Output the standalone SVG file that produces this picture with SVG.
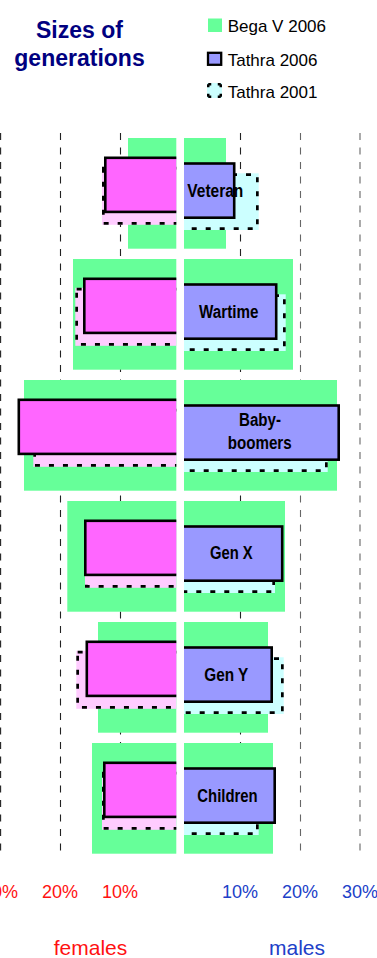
<svg xmlns="http://www.w3.org/2000/svg" width="377" height="958" viewBox="0 0 377 958">
<style>
.bg{fill:#66FF99}
.f06{fill:#FF66FF;stroke:#000;stroke-width:2.6}
.m06{fill:#9999FF;stroke:#000;stroke-width:2.6}
.f01{fill:#FFCCFF}
.m01{fill:#CCFFFF}
.dash{fill:none;stroke:#000;stroke-width:2.7;stroke-dasharray:5 9}
.lbl{font-family:"Liberation Sans",Arial,sans-serif;font-weight:bold;font-size:17.5px;text-anchor:middle;fill:#000}
.grid{fill:none;stroke:#222;stroke-width:1.1;stroke-dasharray:7 7.5}
.gridr{fill:none;stroke:#666;stroke-width:1.1;stroke-dasharray:7 7.5}
.leg{font-family:"Liberation Sans",Arial,sans-serif;font-size:17px;fill:#000}
.title{font-family:"Liberation Sans",Arial,sans-serif;font-weight:bold;font-size:23px;fill:#000080;text-anchor:middle}
.axf{font-family:"Liberation Sans",Arial,sans-serif;font-size:18px;fill:#FF1111;text-anchor:middle}
.axm{font-family:"Liberation Sans",Arial,sans-serif;font-size:18px;fill:#2040C8;text-anchor:middle}
.capf{font-family:"Liberation Sans",Arial,sans-serif;font-size:21px;fill:#FF1111;text-anchor:middle}
.capm{font-family:"Liberation Sans",Arial,sans-serif;font-size:21px;fill:#2040C8;text-anchor:middle}
</style>
<defs>
<clipPath id="clipL"><rect x="0" y="0" width="176.3" height="958"/></clipPath>
<clipPath id="clipR"><rect x="184" y="0" width="193" height="958"/></clipPath>
</defs>
<rect x="0" y="0" width="377" height="958" fill="#fff"/>

<g id="title">
<text class="title" x="79.5" y="37.5">Sizes of</text>
<text class="title" x="79.5" y="65.5">generations</text>
</g>

<g id="legend">
<rect x="208" y="18.5" width="14" height="13.5" class="bg"/>
<text class="leg" x="227.7" y="32">Bega V 2006</text>
<rect x="208" y="52.8" width="13.2" height="12" fill="#9999FF" stroke="#000" stroke-width="2.3"/>
<text class="leg" x="227.7" y="65.5">Tathra 2006</text>
<rect x="207" y="83" width="15" height="15" fill="#CCFFFF"/>
<rect x="208.25" y="84.25" width="12.5" height="12.5" fill="none" stroke="#000" stroke-width="2.5" stroke-dasharray="3 6.5 3 0"/>
<text class="leg" x="227.7" y="97.5">Tathra 2001</text>
</g>

<g id="gridlines">
<line class="grid" x1="0.6" y1="133" x2="0.6" y2="858" stroke-width="1.3"/>
<line class="grid" x1="60.5" y1="133" x2="60.5" y2="858"/>
<line class="grid" x1="120.5" y1="133" x2="120.5" y2="858"/>
<line class="grid" x1="240.5" y1="133" x2="240.5" y2="858"/>
<line class="gridr" x1="300.5" y1="133" x2="300.5" y2="858"/>
<line class="gridr" x1="360" y1="133" x2="360" y2="858" stroke-width="2"/>
</g>

<g id="connectors"></g>

<g id="veteran">
<g clip-path="url(#clipL)">
<rect class="bg" x="128" y="138" width="52" height="110.7"/>
<rect class="f01" x="102" y="166.8" width="78" height="58"/>
<rect class="dash" x="103.35" y="168.15" width="80" height="55.3"/>
<rect class="f06" x="105.3" y="157.8" width="80" height="54.1"/>
</g>
<g clip-path="url(#clipR)">
<rect class="bg" x="180" y="138" width="46" height="110.7"/>
<rect class="m01" x="180" y="173.3" width="78.7" height="56.7"/>
<rect class="dash" x="176" y="174.65" width="81.35" height="54"/>
<rect class="m06" x="176" y="163.5" width="58.2" height="54.2"/>
</g>
<text class="lbl" x="215.3" y="196.7" textLength="56" lengthAdjust="spacingAndGlyphs">Veteran</text>
</g>

<g id="wartime">
<g clip-path="url(#clipL)">
<rect class="bg" x="73" y="259" width="107" height="110.7"/>
<rect class="f01" x="75.3" y="287.8" width="104.7" height="58"/>
<rect class="dash" x="76.65" y="289.15" width="110" height="55.3"/>
<rect class="f06" x="84.3" y="278.8" width="100" height="54.1"/>
</g>
<g clip-path="url(#clipR)">
<rect class="bg" x="180" y="259" width="113" height="110.7"/>
<rect class="m01" x="180" y="294.3" width="105.7" height="56.7"/>
<rect class="dash" x="176" y="295.65" width="108.35" height="54"/>
<rect class="m06" x="176" y="284.5" width="100.2" height="54.2"/>
</g>
<text class="lbl" x="228.7" y="317.7" textLength="59.3" lengthAdjust="spacingAndGlyphs">Wartime</text>
</g>

<g id="baby-boomers">
<g clip-path="url(#clipL)">
<rect class="bg" x="24" y="380" width="156" height="110.7"/>
<rect class="f01" x="33.3" y="408.8" width="146.7" height="58"/>
<rect class="dash" x="34.65" y="410.15" width="150" height="55.3"/>
<rect class="f06" x="18.8" y="399.8" width="170" height="54.1"/>
</g>
<g clip-path="url(#clipR)">
<rect class="bg" x="180" y="380" width="157" height="110.7"/>
<rect class="m01" x="180" y="415.3" width="147.7" height="56.7"/>
<rect class="dash" x="176" y="416.65" width="150.35" height="54"/>
<rect class="m06" x="176" y="405.5" width="162.7" height="54.2"/>
</g>
<text class="lbl" x="260" y="426" textLength="42" lengthAdjust="spacingAndGlyphs">Baby-</text>
<text class="lbl" x="259.7" y="449.3" textLength="64" lengthAdjust="spacingAndGlyphs">boomers</text>
</g>

<g id="gen-x">
<g clip-path="url(#clipL)">
<rect class="bg" x="67.3" y="501" width="112.7" height="110.7"/>
<rect class="f01" x="85" y="529.8" width="95" height="58"/>
<rect class="dash" x="86.35" y="531.15" width="100" height="55.3"/>
<rect class="f06" x="85.3" y="520.8" width="100" height="54.1"/>
</g>
<g clip-path="url(#clipR)">
<rect class="bg" x="180" y="501" width="105" height="110.7"/>
<rect class="m01" x="180" y="536.3" width="95" height="56.7"/>
<rect class="dash" x="176" y="537.65" width="97.65" height="54"/>
<rect class="m06" x="176" y="526.5" width="106.2" height="54.2"/>
</g>
<text class="lbl" x="231.3" y="559.3" textLength="42.7" lengthAdjust="spacingAndGlyphs">Gen X</text>
</g>

<g id="gen-y">
<g clip-path="url(#clipL)">
<rect class="bg" x="98" y="622" width="82" height="110.7"/>
<rect class="f01" x="76.3" y="650.8" width="103.7" height="58"/>
<rect class="dash" x="77.65" y="652.15" width="110" height="55.3"/>
<rect class="f06" x="86.8" y="641.8" width="100" height="54.1"/>
</g>
<g clip-path="url(#clipR)">
<rect class="bg" x="180" y="622" width="88" height="110.7"/>
<rect class="m01" x="180" y="657.3" width="103.7" height="56.7"/>
<rect class="dash" x="176" y="658.65" width="106.35" height="54"/>
<rect class="m06" x="176" y="647.5" width="95.7" height="54.2"/>
</g>
<text class="lbl" x="226.3" y="680.7" textLength="44" lengthAdjust="spacingAndGlyphs">Gen Y</text>
</g>

<g id="children">
<g clip-path="url(#clipL)">
<rect class="bg" x="92" y="743" width="88" height="110.7"/>
<rect class="f01" x="102" y="771.8" width="78" height="58"/>
<rect class="dash" x="103.35" y="773.15" width="80" height="55.3"/>
<rect class="f06" x="104.3" y="762.8" width="80" height="54.1"/>
</g>
<g clip-path="url(#clipR)">
<rect class="bg" x="180" y="743" width="93" height="110.7"/>
<rect class="m01" x="180" y="778.3" width="78.7" height="56.7"/>
<rect class="dash" x="176" y="779.65" width="81.35" height="54"/>
<rect class="m06" x="176" y="768.5" width="98.7" height="54.2"/>
</g>
<text class="lbl" x="227.5" y="801.7" textLength="60.3" lengthAdjust="spacingAndGlyphs">Children</text>
</g>

<g id="axis">
<text class="axf" x="0" y="898">30%</text>
<text class="axf" x="60" y="898">20%</text>
<text class="axf" x="120" y="898">10%</text>
<text class="axm" x="240" y="898">10%</text>
<text class="axm" x="300" y="898">20%</text>
<text class="axm" x="360" y="898">30%</text>
<text class="capf" x="90.5" y="955">females</text>
<text class="capm" x="297" y="955">males</text>
</g>
</svg>
